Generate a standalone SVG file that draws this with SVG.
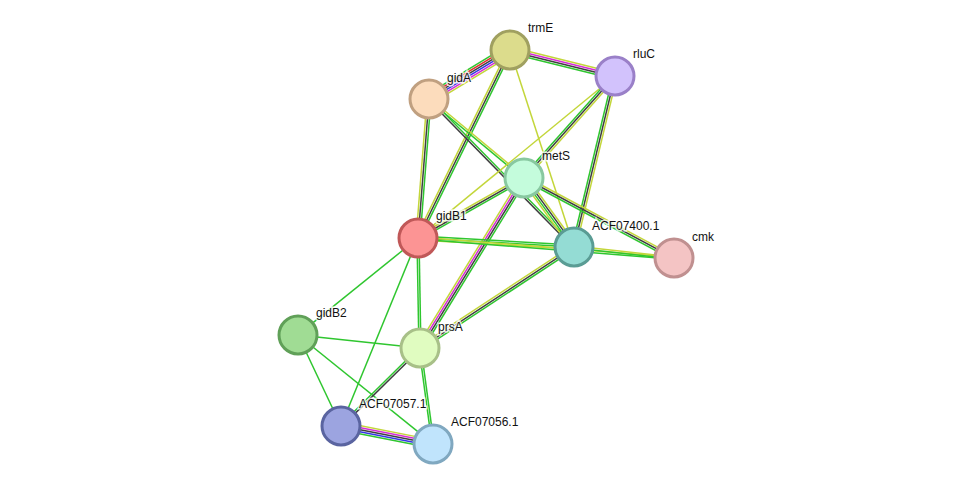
<svg xmlns="http://www.w3.org/2000/svg" width="976" height="489" viewBox="0 0 976 489">
<style>
#edges path{fill:none;stroke-width:1.5}
.g{stroke:#2fc62f}.y{stroke:#c3d63a}.k{stroke:#3f3f3f}.m{stroke:#d52cd5}.b{stroke:#3535e6}.r{stroke:#e33030}
.n{stroke-width:3}
text{font-family:"Liberation Sans",Arial,sans-serif;font-size:12px;fill:#111;stroke:#fff;stroke-width:3px;paint-order:stroke;stroke-opacity:0.8}
</style>
<rect width="976" height="489" fill="#fff"/>
<g id="edges">
<g transform="translate(510,50) rotate(148.8)"><path class="y" d="M0,-5H94.7"/><path class="m" d="M0,-3H94.7"/><path class="b" d="M0,-1H94.7"/><path class="k" d="M0,1H94.7"/><path class="r" d="M0,3H94.7"/><path class="g" d="M0,5H94.7"/></g>
<g transform="translate(510,50) rotate(13.9)"><path class="y" d="M0,-3H108.2"/><path class="m" d="M0,-1H108.2"/><path class="k" d="M0,1H108.2"/><path class="g" d="M0,3H108.2"/></g>
<g transform="translate(510,50) rotate(116.1)"><path class="g" d="M0,-2H209.3"/><path class="k" d="M0,0H209.3"/><path class="y" d="M0,2H209.3"/></g>
<g transform="translate(510,50) rotate(72)"><path class="y" d="M0,0H207.1"/></g>
<g transform="translate(429,99) rotate(94.5)"><path class="g" d="M0,-2H139.4"/><path class="k" d="M0,0H139.4"/><path class="y" d="M0,2H139.4"/></g>
<g transform="translate(429,99) rotate(39.7)"><path class="y" d="M0,-1H123.6"/><path class="g" d="M0,1H123.6"/></g>
<g transform="translate(429,99) rotate(45.6)"><path class="g" d="M0,-1H207.2"/><path class="k" d="M0,1H207.2"/></g>
<g transform="translate(615,76) rotate(140.6)"><path class="y" d="M0,0H255.1"/></g>
<g transform="translate(615,76) rotate(131.7)"><path class="y" d="M0,-2H136.7"/><path class="k" d="M0,0H136.7"/><path class="g" d="M0,2H136.7"/></g>
<g transform="translate(615,76) rotate(103.5)"><path class="y" d="M0,-2H175.8"/><path class="k" d="M0,0H175.8"/><path class="g" d="M0,2H175.8"/></g>
<g transform="translate(524,178) rotate(150.5)"><path class="g" d="M0,-2H121.8"/><path class="k" d="M0,0H121.8"/><path class="y" d="M0,2H121.8"/></g>
<g transform="translate(524,178) rotate(54.1)"><path class="y" d="M0,-3H85.2"/><path class="k" d="M0,-1H85.2"/><path class="g" d="M0,1H85.2"/><path class="y" d="M0,3H85.2"/></g>
<g transform="translate(524,178) rotate(28.1)"><path class="y" d="M0,-2H170"/><path class="k" d="M0,0H170"/><path class="g" d="M0,2H170"/></g>
<g transform="translate(524,178) rotate(121.5)"><path class="g" d="M0,-3H199.3"/><path class="k" d="M0,-1H199.3"/><path class="m" d="M0,1H199.3"/><path class="y" d="M0,3H199.3"/></g>
<g transform="translate(418,238) rotate(3.3)"><path class="g" d="M0,-2H156.3"/><path class="g" d="M0,0H156.3"/><path class="y" d="M0,2H156.3"/></g>
<g transform="translate(418,238) rotate(4.5)"><path class="y" d="M0,-1H256.8"/><path class="g" d="M0,1H256.8"/></g>
<g transform="translate(574,247) rotate(6.3)"><path class="y" d="M0,-1H100.6"/><path class="g" d="M0,1H100.6"/></g>
<g transform="translate(574,247) rotate(146.7)"><path class="g" d="M0,-2H184.2"/><path class="k" d="M0,0H184.2"/><path class="y" d="M0,2H184.2"/></g>
<g transform="translate(418,238) rotate(141.1)"><path class="g" d="M0,0H154.3"/></g>
<g transform="translate(418,238) rotate(112.3)"><path class="g" d="M0,0H203.2"/></g>
<g transform="translate(418,238) rotate(89)"><path class="g" d="M0,-1H110"/><path class="g" d="M0,1H110"/></g>
<g transform="translate(298,335) rotate(6.1)"><path class="g" d="M0,0H122.7"/></g>
<g transform="translate(298,335) rotate(64.7)"><path class="g" d="M0,0H100.6"/></g>
<g transform="translate(298,335) rotate(38.9)"><path class="g" d="M0,0H173.5"/></g>
<g transform="translate(420,348) rotate(135.4)"><path class="k" d="M0,-1H111"/><path class="g" d="M0,1H111"/></g>
<g transform="translate(420,348) rotate(82.3)"><path class="g" d="M0,-1H96.9"/><path class="g" d="M0,1H96.9"/></g>
<g transform="translate(341,426) rotate(11.1)"><path class="y" d="M0,-4H93.7"/><path class="m" d="M0,-2H93.7"/><path class="k" d="M0,0H93.7"/><path class="b" d="M0,2H93.7"/><path class="g" d="M0,4H93.7"/></g>
</g>
<g id="n-trmE"><circle class="n" cx="510" cy="50" r="19" fill="#dcdc8c" stroke="#a0a060"/><text x="528" y="32">trmE</text></g>
<g id="n-rluC"><circle class="n" cx="615" cy="76" r="19" fill="#d2c2fc" stroke="#9a80c8"/><text x="633" y="58">rluC</text></g>
<g id="n-gidA"><circle class="n" cx="429" cy="99" r="19" fill="#fcdcbc" stroke="#c0a080"/><text x="447" y="82">gidA</text></g>
<g id="n-metS"><circle class="n" cx="524" cy="178" r="19" fill="#c4fcdc" stroke="#88c8a0"/><text x="542" y="160">metS</text></g>
<g id="n-gidB1"><circle class="n" cx="418" cy="238" r="19" fill="#fc9494" stroke="#c05858"/><text x="436" y="220">gidB1</text></g>
<g id="n-ACF07400"><circle class="n" cx="574" cy="247" r="19" fill="#94dcd4" stroke="#5a9c94"/><text x="592" y="230">ACF07400.1</text></g>
<g id="n-cmk"><circle class="n" cx="674" cy="258" r="19" fill="#f4c4c4" stroke="#c09090"/><text x="692" y="241">cmk</text></g>
<g id="n-gidB2"><circle class="n" cx="298" cy="335" r="19" fill="#a0dc94" stroke="#60a058"/><text x="316" y="317">gidB2</text></g>
<g id="n-prsA"><circle class="n" cx="420" cy="348" r="19" fill="#e0fcc0" stroke="#a8c088"/><text x="438" y="331">prsA</text></g>
<g id="n-ACF07057"><circle class="n" cx="341" cy="426" r="19" fill="#9ca4e0" stroke="#5a64a0"/><text x="359" y="408">ACF07057.1</text></g>
<g id="n-ACF07056"><circle class="n" cx="433" cy="444" r="19" fill="#c0e4fc" stroke="#80a8c0"/><text x="451" y="426">ACF07056.1</text></g>
</svg>
